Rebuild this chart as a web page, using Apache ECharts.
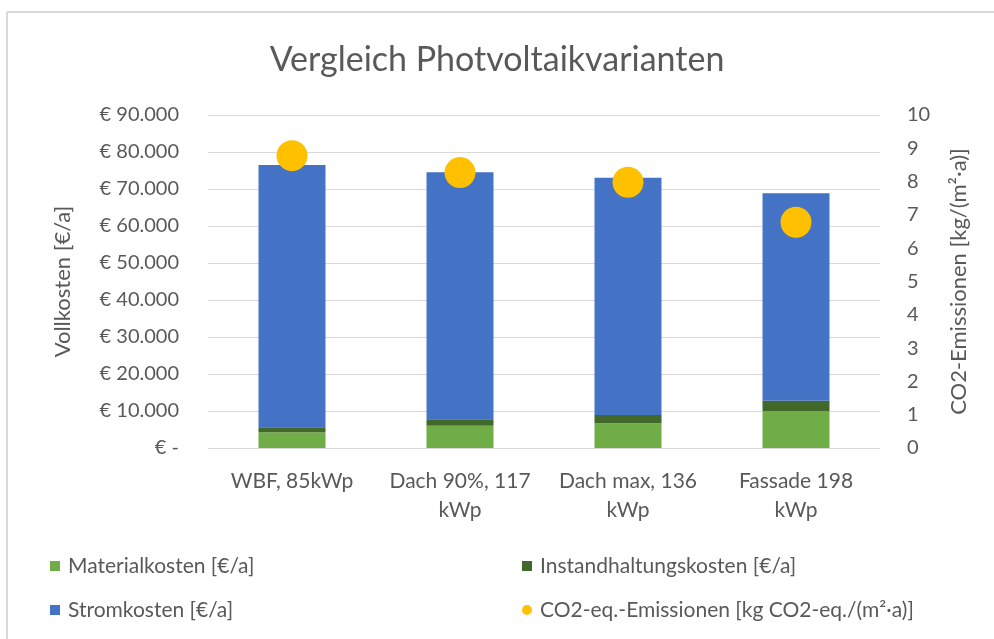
<!DOCTYPE html>
<html>
<head>
<meta charset="utf-8">
<script src="https://cdn.jsdelivr.net/npm/echarts@6/dist/echarts.min.js"></script>
<style>
  html, body { margin: 0; padding: 0; background: #fff; }
  #chart { width: 994px; height: 639px; }
</style>
</head>
<body>
<div id="chart"></div>
<script>
// Varianten
var categories = ["WBF, 85kWp", "Dach 90%, 117\nkWp", "Dach max, 136\nkWp", "Fassade 198\nkWp"];
// Kosten [€/a]
var materialkosten = [4240, 6030, 6680, 10000];
var instandhaltung = [1350, 1730, 2240, 2780];
var stromkosten = [70900, 66750, 64130, 56060];
// CO2 [kg/(m²·a)]
var co2 = [8.78, 8.27, 7.98, 6.78];

var font = "Lato";
var grey = "#595959";

function euro(v) {
    if (v === 0) return "€ -";
    return "€ " + String(v).replace(/\B(?=(\d{3})+(?!\d))/g, ".");
}

var chart = echarts.init(document.getElementById("chart"));
chart.setOption({
    backgroundColor: "#fff",
    animation: false,
    textStyle: { fontFamily: font },
    title: {
        text: "Vergleich Photvoltaikvarianten",
        left: "center",
        top: 38,
        textStyle: { fontFamily: font, fontSize: 34, fontWeight: "normal", color: grey },
    },
    graphic: [
        { type: "line", shape: { x1: 7, y1: 12, x2: 994, y2: 12 }, style: { stroke: "#D9D9D9", lineWidth: 2 } },
        { type: "line", shape: { x1: 7, y1: 12, x2: 7, y2: 639 }, style: { stroke: "#D9D9D9", lineWidth: 2 } },
    ],
    legend: [
        {
            orient: "vertical",
            left: 45,
            top: 548,
            itemGap: 18,
            itemWidth: 10,
            itemHeight: 10,
            data: [
                { name: "Materialkosten [€/a]", icon: "rect" },
                { name: "Stromkosten [€/a]", icon: "rect" },
            ],
            textStyle: { fontFamily: font, fontSize: 21, color: grey, lineHeight: 26, padding: [0, 0, 0, 3] },
        },
        {
            orient: "vertical",
            left: 517,
            top: 548,
            itemGap: 18,
            itemWidth: 10,
            itemHeight: 10,
            data: [
                { name: "Instandhaltungskosten [€/a]", icon: "rect" },
                { name: "CO2-eq.-Emissionen [kg CO2-eq./(m²·a)]", icon: "circle" },
            ],
            textStyle: { fontFamily: font, fontSize: 21, color: grey, lineHeight: 26, padding: [0, 0, 0, 3] },
        },
    ],
    grid: {
        left: 208,
        right: 114,
        top: 115,
        bottom: 191,
    },
    xAxis: {
        type: "category",
        data: categories,
        axisTick: { show: false },
        axisLine: { lineStyle: { color: "#D9D9D9", width: 1 } },
        axisLabel: {
            color: grey,
            fontFamily: font,
            fontSize: 21,
            lineHeight: 29,
            margin: 19,
            interval: 0,
        },
    },
    yAxis: [
        {
            type: "value",
            min: 0,
            max: 90000,
            interval: 10000,
            name: "Vollkosten [€/a]",
            nameLocation: "middle",
            nameRotate: 90,
            nameGap: 134,
            nameTextStyle: { color: grey, fontFamily: font, fontSize: 22 },
            axisLine: { show: false },
            axisTick: { show: false },
            axisLabel: { formatter: euro, color: grey, fontFamily: font, fontSize: 20, margin: 29 },
            splitLine: { lineStyle: { color: "#D9D9D9", width: 1 } },
        },
        {
            type: "value",
            min: 0,
            max: 10,
            interval: 1,
            name: "CO2-Emissionen [kg/(m²·a)]",
            nameLocation: "middle",
            nameRotate: 90,
            nameGap: 68,
            nameTextStyle: { color: grey, fontFamily: font, fontSize: 22 },
            axisLine: { show: false },
            axisTick: { show: false },
            axisLabel: { color: grey, fontFamily: font, fontSize: 20, margin: 27 },
            splitLine: { show: false },
        },
    ],
    series: [
        {
            name: "Materialkosten [€/a]",
            type: "bar",
            stack: "kosten",
            barWidth: 67,
            data: materialkosten,
            itemStyle: { color: "#70AD47" },
        },
        {
            name: "Instandhaltungskosten [€/a]",
            type: "bar",
            stack: "kosten",
            barWidth: 67,
            data: instandhaltung,
            itemStyle: { color: "#43682B" },
        },
        {
            name: "Stromkosten [€/a]",
            type: "bar",
            stack: "kosten",
            barWidth: 67,
            data: stromkosten,
            itemStyle: { color: "#4472C4" },
        },
        {
            name: "CO2-eq.-Emissionen [kg CO2-eq./(m²·a)]",
            type: "scatter",
            yAxisIndex: 1,
            symbol: "circle",
            symbolSize: 31,
            data: co2,
            itemStyle: { color: "#FFC000", opacity: 1 },
            z: 5,
        },
    ],
});
</script>
</body>
</html>
